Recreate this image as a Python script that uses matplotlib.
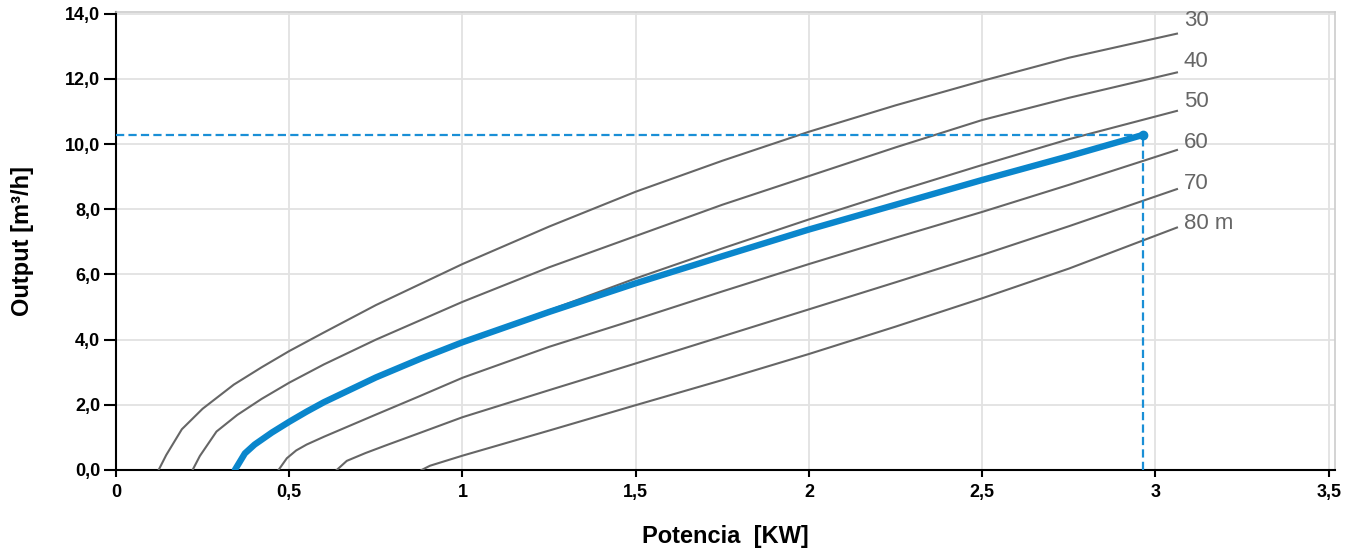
import numpy as np
import matplotlib.pyplot as plt

# curves: power [KW] vs output [m3/h] for each head
x30 = [0.123, 0.145, 0.19, 0.25, 0.34, 0.42, 0.5, 0.6, 0.75, 1.0, 1.25, 1.5,
       1.75, 2.0, 2.25, 2.5, 2.75, 3.062]
y30 = [0.0, 0.46, 1.25, 1.88, 2.62, 3.15, 3.65, 4.22, 5.06, 6.32, 7.47, 8.54,
       9.49, 10.38, 11.19, 11.94, 12.65, 13.39]

x40 = [0.221, 0.242, 0.29, 0.35, 0.42, 0.5, 0.6, 0.75, 1.0, 1.25, 1.5, 1.75,
       2.0, 2.25, 2.5, 2.75, 3.062]
y40 = [0.0, 0.43, 1.18, 1.69, 2.18, 2.68, 3.24, 4.0, 5.16, 6.22, 7.18, 8.14,
       9.02, 9.9, 10.74, 11.42, 12.2]

x50 = [0.343, 0.372, 0.4, 0.45, 0.5, 0.55, 0.6, 0.75, 0.88, 1.0, 1.25, 1.5,
       1.75, 2.0, 2.25, 2.5, 2.75, 3.062]
y50 = [0.0, 0.51, 0.78, 1.15, 1.48, 1.79, 2.08, 2.84, 3.42, 3.94, 4.9, 5.88,
       6.8, 7.69, 8.54, 9.36, 10.15, 11.02]

x60 = [0.469, 0.493, 0.52, 0.55, 0.6, 0.675, 0.75, 0.875, 1.0, 1.25, 1.5,
       1.75, 2.0, 2.25, 2.5, 2.75, 3.062]
y60 = [0.0, 0.36, 0.6, 0.78, 1.02, 1.36, 1.7, 2.26, 2.83, 3.78, 4.62,
       5.48, 6.32, 7.13, 7.92, 8.75, 9.82]

x70 = [0.637, 0.666, 0.72, 0.78, 0.875, 1.0, 1.25, 1.5, 1.75, 2.0, 2.25,
       2.5, 2.75, 3.062]
y70 = [0.0, 0.28, 0.52, 0.76, 1.13, 1.62, 2.45, 3.27, 4.1, 4.93, 5.76,
       6.6, 7.48, 8.62]

x80 = [0.882, 0.906, 1.0, 1.25, 1.5, 1.75, 2.0, 2.25, 2.5, 2.75, 3.062]
y80 = [0.0, 0.13, 0.44, 1.21, 1.99, 2.76, 3.56, 4.4, 5.27, 6.18, 7.44]

head_labels = ['30', '40', '50', '60', '70', '80 m']

# selected working curve
x_sel = [0.343, 0.372, 0.4, 0.45, 0.5, 0.55, 0.6, 0.75, 0.88, 1.0, 1.25, 1.5,
         1.75, 2.0, 2.25, 2.5, 2.75, 2.963]
y_sel = [0.0, 0.51, 0.78, 1.15, 1.48, 1.79, 2.08, 2.84, 3.42, 3.92, 4.85, 5.73,
         6.56, 7.38, 8.14, 8.9, 9.63, 10.28]
p_op = 2.963
q_op = 10.28

xticks = [0, 0.5, 1, 1.5, 2, 2.5, 3, 3.5]
xtick_labels = ['0', '0,5', '1', '1,5', '2', '2,5', '3', '3,5']
yticks = [0, 2, 4, 6, 8, 10, 12, 14]
ytick_labels = ['0,0', '2,0', '4,0', '6,0', '8,0', '10,0', '12,0', '14,0']

plt.rcParams['font.family'] = ['Liberation Sans', 'DejaVu Sans']

fig = plt.figure(figsize=(13.52, 5.49), dpi=100)
ax = fig.add_axes([0.0858, 0.1439, 0.9016, 0.834])

gray = '#666666'
blue = '#0a86cc'

curves = [(x30, y30), (x40, y40), (x50, y50), (x60, y60), (x70, y70), (x80, y80)]
for i, ((xs, ys), lab) in enumerate(zip(curves, head_labels)):
    ax.plot(xs, ys, color=gray, lw=1.5, solid_joinstyle='round', zorder=3)
    ax.text(xs[-1] + 0.02, 13.8 - 1.25 * i, lab, color=gray, fontsize=16,
            va='center', ha='left', clip_on=False)

ax.plot([0, p_op], [q_op, q_op], color='#1a8fd6', lw=1.6, dashes=(3.7, 1.9), zorder=4)
ax.plot([p_op, p_op], [0, q_op], color='#1a8fd6', lw=1.6, dashes=(3.7, 1.9), zorder=4)
ax.plot(x_sel, y_sel, color=blue, lw=4.6, solid_capstyle='round',
        solid_joinstyle='round', zorder=5)
ax.plot([p_op], [q_op], 'o', color=blue, ms=6, zorder=6)

ax.set_xlim(0, 3.518)
ax.set_ylim(0, 14.05)
ax.set_xticks(xticks)
ax.set_xticklabels(xtick_labels)
ax.set_yticks(yticks)
ax.set_yticklabels(ytick_labels)
ax.tick_params(axis='both', direction='out', width=1.5, color='black', labelsize=13)
ax.tick_params(axis='x', length=5, pad=5)
ax.tick_params(axis='y', length=8.5, pad=3)
for lab in ax.get_xticklabels() + ax.get_yticklabels():
    lab.set_fontweight('bold')

ax.grid(True, color='#e2e2e2', lw=1.3)
ax.set_axisbelow(True)
for s in ['top', 'right']:
    ax.spines[s].set_color('#cccccc')
    ax.spines[s].set_linewidth(1.2)
for s in ['left', 'bottom']:
    ax.spines[s].set_color('black')
    ax.spines[s].set_linewidth(1.5)

ax.set_xlabel('Potencia  [KW]', fontsize=17, fontweight='bold')
ax.set_ylabel('Output [m³/h]', fontsize=17, fontweight='bold')
ax.xaxis.set_label_coords(0.5, -0.146)
ax.xaxis.label.set_va('center')
ax.yaxis.set_label_coords(-0.077, 0.5)
ax.yaxis.label.set_va('center')

plt.savefig('out.png', dpi=100)
